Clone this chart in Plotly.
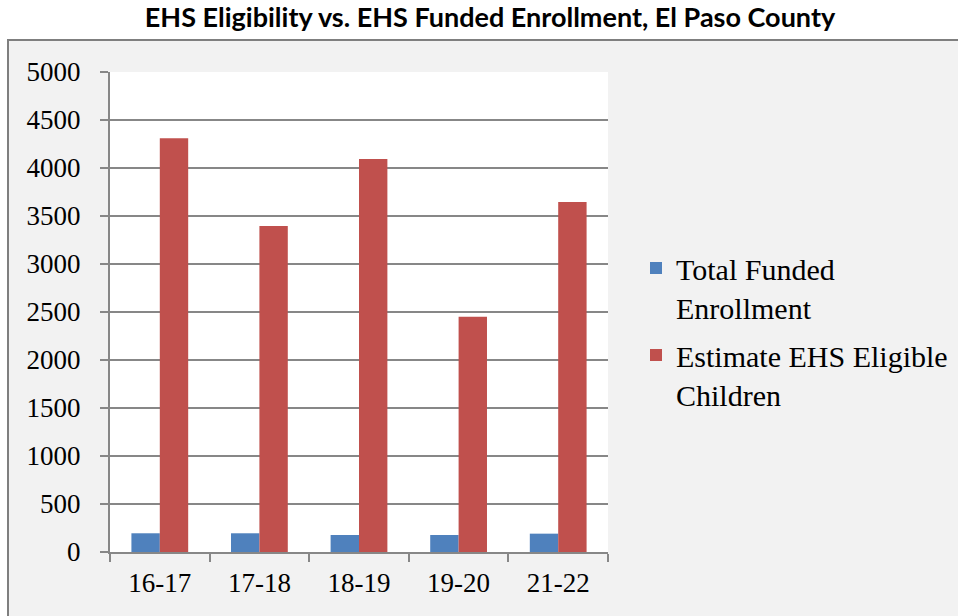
import plotly.graph_objects as go

# School years and counts per year
years = ["16-17", "17-18", "18-19", "19-20", "21-22"]
funded_enrollment = [195, 195, 177, 177, 191]
eligible_children = [4310, 3395, 4095, 2450, 3645]

series_names = ["Total Funded<br>Enrollment", "Estimate EHS Eligible<br>Children"]
colors = ["#4f81bd", "#c0504d"]

# Pixel geometry of the plot area within the 958x616 page
W, H = 958, 616
L, R, T, B = 110, 350, 72, 64
pw, ph = W - L - R, H - T - B


def px_to_paper_x(px):
    return (px - L) / pw


def px_to_paper_y(py):
    return (H - B - py) / ph


serif = "Liberation Serif"
grid = "#878787"

fig = go.Figure()
fig.add_trace(go.Bar(x=years, y=funded_enrollment, name=series_names[0],
                     marker=dict(color=colors[0], line=dict(width=0)),
                     legendgroup="a"))
fig.add_trace(go.Bar(x=years, y=eligible_children, name=series_names[1],
                     marker=dict(color=colors[1], line=dict(width=0)),
                     legendgroup="b"))

shapes = [
    # chart frame (light gray panel with border)
    dict(type="rect", xref="paper", yref="paper", layer="below",
         x0=px_to_paper_x(8), x1=px_to_paper_x(W + 10),
         y0=px_to_paper_y(H + 10), y1=px_to_paper_y(40),
         fillcolor="#f2f2f2", line=dict(color="#7f7f7f", width=2)),
    # white plot area
    dict(type="rect", xref="paper", yref="paper", layer="below",
         x0=0, x1=1, y0=0, y1=1, fillcolor="white", line=dict(width=0)),
]

fig.update_layout(
    width=W, height=H,
    margin=dict(l=L, r=R, t=T, b=B, autoexpand=False),
    paper_bgcolor="white",
    plot_bgcolor="rgba(0,0,0,0)",
    barmode="group",
    bargap=0.43,
    bargroupgap=0,
    shapes=shapes,
    title=dict(text="<b>EHS Eligibility vs. EHS Funded Enrollment, El Paso County</b>",
               x=490 / W, xref="container", xanchor="center",
               y=1 - 18 / H, yref="container", yanchor="middle",
               font=dict(family="Lato", size=27, color="black")),
    font=dict(family=serif, size=27, color="black"),
    legend=dict(x=px_to_paper_x(636), y=px_to_paper_y(242),
                xanchor="left", yanchor="top",
                bgcolor="rgba(0,0,0,0)", valign="top",
                traceorder="grouped", tracegroupgap=6,
                itemwidth=30,
                font=dict(family=serif, size=30, color="black")),
    xaxis=dict(type="category", showline=True, linecolor=grid, linewidth=2,
               ticks="outside", tickson="boundaries", ticklen=8,
               tickcolor=grid, tickwidth=1.5, showgrid=False,
               ticklabelstandoff=6,
               tickfont=dict(family=serif, size=27, color="black")),
    yaxis=dict(range=[0, 5000], dtick=500, showline=True, linecolor=grid,
               linewidth=2, ticks="outside", ticklen=8, tickcolor=grid,
               tickwidth=1.5, showgrid=True, gridcolor=grid, gridwidth=1.5,
               zeroline=False, ticklabelstandoff=14,
               tickfont=dict(family=serif, size=27, color="black")),
)

fig.write_html("out.html")
